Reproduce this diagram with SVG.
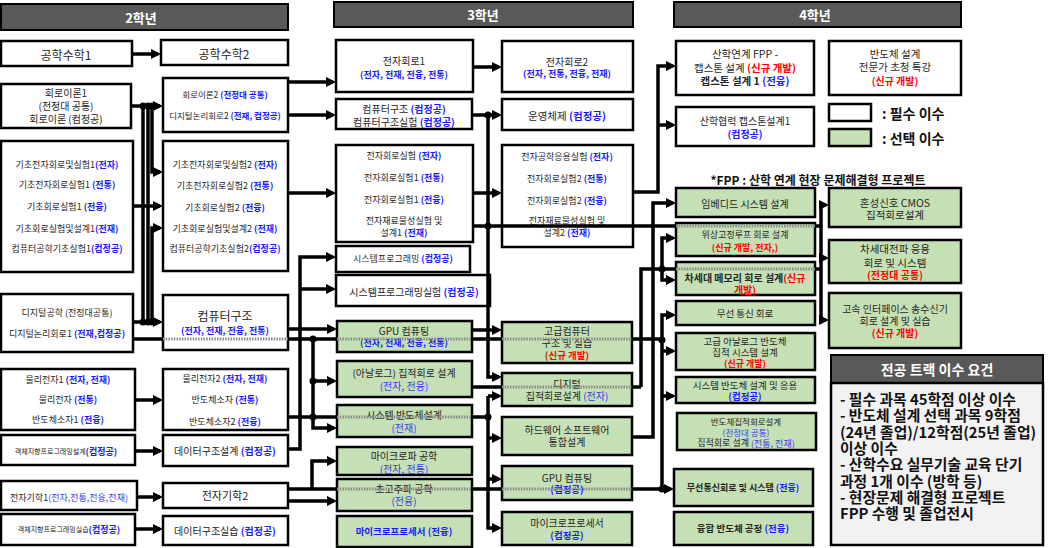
<svg xmlns="http://www.w3.org/2000/svg" width="1049" height="548" viewBox="0 0 1049 548">
<defs>
<style>
.w{fill:#fff;stroke:#000;stroke-width:2.5}
.g{fill:#c5e0b4;stroke:#000;stroke-width:2.5}
.hd{fill:#595959;stroke:#000;stroke-width:2}
text{font-family:"Noto Sans CJK KR","Noto Sans",sans-serif;fill:#262626;text-anchor:middle;dominant-baseline:central}
.f7{font-size:7px}.f85{font-size:8.5px}.f9{font-size:9px}.f95{font-size:9.5px}.f10{font-size:10px}.f105{font-size:10.5px}.f11{font-size:11px}.f12{font-size:12px}.f14{font-size:14px}
.k{font-weight:bold}
.bb{fill:#1a1aff;font-weight:bold}
.bn{fill:#3c3cf0}
.rb{fill:#ff0000;font-weight:bold}
.ht{fill:#fff;font-weight:bold;font-size:13px}
.rq{text-anchor:start;fill:#111;font-size:14.8px;font-weight:bold}
.c{fill:none;stroke:#000;stroke-width:3.5}
.d{fill:none;stroke:#8a8a8a;stroke-width:3;stroke-dasharray:1.5 1.2}
.a{marker-end:url(#ah)}
.dot{fill:#000}
</style>
<marker id="ah" markerWidth="10" markerHeight="10" refX="7" refY="5" orient="auto" markerUnits="userSpaceOnUse"><path d="M0,0 L10,5 L0,10 z" fill="#000"/></marker>
</defs>
<rect width="1049" height="548" fill="#fff"/>

<g id="h2"><rect class="hd" x="1" y="4" width="287" height="26"/><text class="ht" x="141" y="17">2학년</text></g>
<g id="h3"><rect class="hd" x="334" y="2" width="299" height="25"/><text class="ht" x="483" y="14">3학년</text></g>
<g id="h4"><rect class="hd" x="674" y="2" width="287" height="25"/><text class="ht" x="815" y="14">4학년</text></g>

<!-- column 1 -->
<g id="m1"><rect class="w" x="1" y="41" width="131" height="25"/><text class="f12" x="66" y="54">공학수학1</text></g>
<g id="ct1"><rect class="w" x="1" y="84" width="130" height="44"/>
<text class="f10" x="66" y="92">회로이론1</text><text class="f10" x="66" y="105">(전정대 공통)</text><text class="f10" x="66" y="118">회로이론 (컴정공)</text></g>
<g id="bl1"><rect class="w" x="1" y="141" width="132" height="131"/>
<text class="f9" x="67" y="164">기초전자회로및실험1<tspan class="bb">(전자)</tspan></text>
<text class="f9" x="67" y="184">기초전자회로실험1 <tspan class="bb">(전통)</tspan></text>
<text class="f9" x="67" y="206">기초회로실험1 <tspan class="bb">(전융)</tspan></text>
<text class="f9" x="67" y="228">기초회로실험및설계1<tspan class="bb">(전재)</tspan></text>
<text class="f9" x="67" y="248">컴퓨터공학기초실험1<tspan class="bb">(컴정공)</tspan></text></g>
<g id="dg1"><rect class="w" x="1" y="294" width="132" height="58"/>
<text class="f9" x="67" y="312">디지털공학 (전정대공통)</text>
<text class="f9" x="67" y="333">디지털논리회로1 <tspan class="bb">(전재,컴정공)</tspan></text></g>
<g id="pe1"><rect class="w" x="1" y="369" width="134" height="61"/>
<text class="f9" x="68" y="379">물리전자1 <tspan class="bb">(전자, 전재)</tspan></text>
<text class="f9" x="68" y="399">물리전자 <tspan class="bb">(전통)</tspan></text>
<text class="f9" x="68" y="419">반도체소자1 <tspan class="bb">(전융)</tspan></text></g>
<g id="op1"><rect class="w" x="1" y="435" width="134" height="30"/>
<text class="f7" x="66" y="451">객체지향프로그래밍설계<tspan class="bb" style="font-size:9px">(컴정공)</tspan></text></g>
<g id="em1"><rect class="w" x="1" y="481" width="136" height="29"/>
<text class="f9" x="69" y="497">전자기학1<tspan class="bn">(전자,전통,전융,전재)</tspan></text></g>
<g id="op2"><rect class="w" x="1" y="514" width="134" height="31"/>
<text class="f7" x="69" y="529">객체지향프로그래밍실습<tspan class="bb" style="font-size:9px">(컴정공)</tspan></text></g>

<!-- column 2 -->
<g id="m2"><rect class="w" x="161" y="40" width="127" height="25"/><text class="f12" x="224" y="53">공학수학2</text></g>
<g id="ct2"><rect class="w" x="163" y="78" width="125" height="54"/>
<text class="f85" x="225" y="94">회로이론2 <tspan class="bb">(전정대 공통)</tspan></text>
<text class="f85" x="225" y="115">디지털논리회로2 <tspan class="bb">(전재, 컴정공)</tspan></text></g>
<g id="bl2"><rect class="w" x="163" y="141" width="125" height="130"/>
<text class="f9" x="225" y="164">기초전자회로및실험2 <tspan class="bb">(전자)</tspan></text>
<text class="f9" x="225" y="185">기초전자회로실험2 <tspan class="bb">(전통)</tspan></text>
<text class="f9" x="225" y="207">기초회로실험2 <tspan class="bb">(전융)</tspan></text>
<text class="f9" x="225" y="228">기초회로실험및설계2 <tspan class="bb">(전재)</tspan></text>
<text class="f9" x="225" y="248">컴퓨터공학기초실험2<tspan class="bb">(컴정공)</tspan></text></g>
<g id="ca2"><rect class="w" x="163" y="295" width="125" height="55"/>
<text class="f12" x="225" y="315">컴퓨터구조</text>
<text class="f9 bb" x="225" y="330">(전자, 전재, 전융, 전통)</text></g>
<g id="pe2"><rect class="w" x="163" y="369" width="125" height="61"/>
<text class="f9" x="225" y="378">물리전자2 <tspan class="bb">(전자, 전재)</tspan></text>
<text class="f9" x="225" y="399">반도체소자 <tspan class="bb">(전통)</tspan></text>
<text class="f9" x="225" y="421">반도체소자2 <tspan class="bb">(전융)</tspan></text></g>
<g id="ds2"><rect class="w" x="163" y="435" width="125" height="31"/>
<text class="f10" x="225" y="450">데이터구조설계 <tspan class="bb">(컴정공)</tspan></text></g>
<g id="em2"><rect class="w" x="163" y="483" width="125" height="25"/>
<text class="f11" x="225" y="495">전자기학2</text></g>
<g id="dp2"><rect class="w" x="163" y="516" width="125" height="29"/>
<text class="f10" x="225" y="530">데이터구조실습 <tspan class="bb">(컴정공)</tspan></text></g>

<!-- column 3 -->
<g id="ec1"><rect class="w" x="336" y="40" width="137" height="52"/>
<text class="f10" x="404" y="60">전자회로1</text>
<text class="f9 bb" x="404" y="74">(전자, 전재, 전융, 전통)</text></g>
<g id="ca3"><rect class="w" x="336" y="99" width="136" height="30"/>
<text class="f10" x="404" y="108">컴퓨터구조 <tspan class="bb">(컴정공)</tspan></text>
<text class="f10" x="404" y="121">컴퓨터구조실험 <tspan class="bb">(컴정공)</tspan></text></g>
<g id="el3"><rect class="w" x="336" y="145" width="137" height="97"/>
<text class="f9" x="404" y="155">전자회로실험 <tspan class="bb">(전자)</tspan></text>
<text class="f9" x="404" y="177">전자회로실험1 <tspan class="bb">(전통)</tspan></text>
<text class="f9" x="404" y="199">전자회로실험1 <tspan class="bb">(전융)</tspan></text>
<text class="f9" x="404" y="220">전자재료물성실험 및</text>
<text class="f9" x="404" y="232">설계1 <tspan class="bb">(전재)</tspan></text></g>
<g id="sp3"><rect class="w" x="336" y="246" width="134" height="26"/>
<text class="f9" x="403" y="258">시스템프로그래밍 <tspan class="bb">(컴정공)</tspan></text></g>
<g id="spl3"><rect class="w" x="336" y="275" width="154" height="31"/>
<text class="f10" x="414" y="291">시스템프로그래밍실험 <tspan class="bb">(컴정공)</tspan></text></g>
<g id="gpu3"><rect class="g" x="337" y="321" width="135" height="31"/>
<text class="f10" x="404" y="330">GPU 컴퓨팅</text>
<text class="f9 bb" x="404" y="342">(전자, 전재, 전융, 전통)</text></g>
<g id="aic3"><rect class="g" x="337" y="361" width="135" height="36"/>
<text class="f10" x="404" y="372">(아날로그) 집적회로 설계</text>
<text class="f10 bn" x="404" y="385">(전자, 전융)</text></g>
<g id="ssd3"><rect class="g" x="337" y="405" width="135" height="32"/>
<text class="f10" x="404" y="414">시스템 반도체설계</text>
<text class="f10 bn" x="404" y="427">(전재)</text></g>
<g id="mw3"><rect class="g" x="337" y="447" width="135" height="28"/>
<text class="f10" x="404" y="455">마이크로파 공학</text>
<text class="f10 bn" x="404" y="468">(전자, 전통)</text></g>
<g id="hf3"><rect class="g" x="337" y="479" width="135" height="32"/>
<text class="f10" x="404" y="488">초고주파 공학</text>
<text class="f10 bn" x="404" y="500">(전융)</text></g>
<g id="mp3"><rect class="g" x="337" y="516" width="135" height="31"/>
<text class="f95 bb" x="404" y="531">마이크로프로세서 (전융)</text></g>

<!-- column 4 -->
<g id="ec2"><rect class="w" x="502" y="41" width="131" height="51"/>
<text class="f10" x="567" y="61">전자회로2</text>
<text class="f9 bb" x="567" y="73">(전자, 전통, 전융, 전재)</text></g>
<g id="os4"><rect class="w" x="502" y="99" width="131" height="31"/>
<text class="f105" x="567" y="115">운영체제 <tspan class="bb">(컴정공)</tspan></text></g>
<g id="ea4"><rect class="w" x="502" y="145" width="131" height="102"/>
<text class="f9" x="567" y="156">전자공학응용실험 <tspan class="bb">(전자)</tspan></text>
<text class="f9" x="567" y="178">전자회로실험2 <tspan class="bb">(전통)</tspan></text>
<text class="f9" x="567" y="200">전자회로실험2 <tspan class="bb">(전융)</tspan></text>
<text class="f9" x="567" y="220">전자재료물성실험 및</text>
<text class="f9" x="567" y="232">설계2 <tspan class="bb">(전재)</tspan></text></g>
<g id="aca4"><rect class="g" x="502" y="322" width="130" height="41"/>
<text class="f10" x="567" y="330">고급컴퓨터</text>
<text class="f10" x="567" y="342">구조 및 실습</text>
<text class="f95 rb" x="567" y="355">(신규 개발)</text></g>
<g id="dic4"><rect class="g" x="502" y="373" width="130" height="33"/>
<text class="f10" x="567" y="383">디지털</text>
<text class="f10" x="567" y="395">집적회로설계 <tspan class="bn">(전자)</tspan></text></g>
<g id="hs4"><rect class="g" x="502" y="417" width="130" height="38"/>
<text class="f10" x="567" y="429">하드웨어 소프트웨어</text>
<text class="f10" x="567" y="441">통합설계</text></g>
<g id="gpu4"><rect class="g" x="502" y="466" width="130" height="34"/>
<text class="f10" x="567" y="477">GPU 컴퓨팅</text>
<text class="f95 bb" x="567" y="489">(컴정공)</text></g>
<g id="mp4"><rect class="g" x="502" y="512" width="130" height="33"/>
<text class="f10" x="567" y="522">마이크로프로세서</text>
<text class="f95 bb" x="567" y="535">(컴정공)</text></g>

<!-- column 5 -->
<g id="fpp5"><rect class="w" x="676" y="41" width="138" height="54"/>
<text class="f105" x="745" y="53">산학연계 FPP -</text>
<text class="f105" x="745" y="67">캡스톤 설계 <tspan class="rb">(신규 개발)</tspan></text>
<text class="f105 k" x="745" y="80">캡스톤 설계 1 <tspan class="bb">(전융)</tspan></text></g>
<g id="cap5"><rect class="w" x="676" y="107" width="138" height="39"/>
<text class="f10" x="745" y="120">산학협력 캡스톤설계1</text>
<text class="f10 bb" x="745" y="133">(컴정공)</text></g>
<g id="note"><text class="f12 k" x="818" y="179" style="fill:#111">*FPP : 산학 연계 현장 문제해결형 프로젝트</text></g>
<g id="emb5"><rect class="g" x="676" y="188" width="139" height="29"/>
<text class="f10" x="745" y="203">임베디드 시스템 설계</text></g>
<g id="pll5"><rect class="g" x="676" y="223" width="139" height="33"/>
<text class="f9" x="745" y="234">위상고정루프 회로 설계</text>
<text class="f9 rb" x="745" y="247">(신규 개발, 전자,)</text></g>
<g id="mem5"><rect class="g" x="676" y="262" width="139" height="33"/>
<text class="f10 k" x="745" y="277">차세대 메모리 회로 설계<tspan class="rb">(신규</tspan></text>
<text class="f10 rb" x="745" y="289">개발)</text></g>
<g id="rf5"><rect class="g" x="676" y="301" width="139" height="24"/>
<text class="f95" x="745" y="313">무선 통신 회로</text></g>
<g id="aa5"><rect class="g" x="676" y="333" width="139" height="37"/>
<text class="f95" x="745" y="340.5">고급 아날로그 반도체</text>
<text class="f95" x="745" y="351.5">집적 시스템 설계</text>
<text class="f9 rb" x="745" y="363">(신규 개발)</text></g>
<g id="ssa5"><rect class="g" x="676" y="377" width="139" height="26"/>
<text class="f95" x="745" y="384.5">시스템 반도체 설계 및 응용</text>
<text class="f95 bb" x="745" y="396">(컴정공)</text></g>
<g id="sic5"><rect class="g" x="677" y="413" width="139" height="37"/>
<text class="f85" x="746" y="420.5">반도체집적회로설계</text>
<text class="f85 bn" x="746" y="431.5">(전정대 공통)</text>
<text class="f9" x="746" y="442.5">집적회로 설계 <tspan class="bn">(전통, 전재)</tspan></text></g>
<g id="rfs5"><rect class="g" x="674" y="469" width="139" height="37"/>
<text class="f9 k" x="743" y="487">무선통신회로 및 시스템 <tspan class="bb">(전융)</tspan></text></g>
<g id="fs5"><rect class="g" x="674" y="512" width="139" height="33"/>
<text class="f95 k" x="743" y="528">융합 반도체 공정 <tspan class="bb">(전융)</tspan></text></g>

<!-- column 6 -->
<g id="sem6"><rect class="w" x="829" y="41" width="132" height="54"/>
<text class="f105" x="895" y="53">반도체 설계</text>
<text class="f105" x="895" y="66">전문가 초청 특강</text>
<text class="f10 rb" x="895" y="80">(신규 개발)</text></g>
<g id="legend">
<rect class="w" x="829" y="104" width="42" height="17"/>
<rect class="g" x="829" y="129" width="42" height="17"/>
<text class="f14 k" x="882" y="113" style="text-anchor:start;fill:#111">: 필수 이수</text>
<text class="f14 k" x="882" y="138" style="text-anchor:start;fill:#111">: 선택 이수</text></g>
<g id="cmos6"><rect class="g" x="829" y="188" width="132" height="39"/>
<text class="f105" x="895" y="202">혼성신호 CMOS</text>
<text class="f105" x="895" y="214">집적회로설계</text></g>
<g id="nrf6"><rect class="g" x="829" y="240" width="132" height="43"/>
<text class="f105" x="895" y="248">차세대전파 응용</text>
<text class="f105" x="895" y="262">회로 및 시스템</text>
<text class="f10 rb" x="895" y="274">(전정대 공통)</text></g>
<g id="hsi6"><rect class="g" x="829" y="293" width="132" height="55"/>
<text class="f10" x="895" y="308">고속 인터페이스 송수신기</text>
<text class="f10" x="895" y="320">회로 설계 및 실습</text>
<text class="f10 rb" x="895" y="332">(신규 개발)</text></g>
<g id="req">
<rect class="hd" x="831" y="355" width="212" height="28"/>
<text class="f14" x="937" y="369" style="fill:#fff;font-weight:bold">전공 트랙 이수 요건</text>
<rect x="831" y="383" width="212" height="162" fill="#f2f2f2" stroke="#000" stroke-width="2.5"/>
<text class="rq" x="840" y="398">- 필수 과목 45학점 이상 이수</text>
<text class="rq" x="840" y="414">- 반도체 설계 선택 과목 9학점</text>
<text class="rq" x="840" y="431">(24년 졸업)/12학점(25년 졸업)</text>
<text class="rq" x="840" y="447">이상 이수</text>
<text class="rq" x="840" y="463">- 산학수요 실무기술 교육 단기</text>
<text class="rq" x="840" y="480">과정 1개 이수 (방학 등)</text>
<text class="rq" x="840" y="496">- 현장문제 해결형 프로젝트</text>
<text class="rq" x="840" y="512">FPP 수행 및 졸업전시</text>
</g>

<g id="connectors">
<path class="c a" d="M132,54 H158"/>
<path class="c a" d="M131,106 H160"/>
<path class="c" d="M143,106 V322 M148,106 V322"/>
<path class="c a" d="M152,106 V172 H160"/>
<path class="c a" d="M133,206 H160"/>
<path class="c a" d="M152,322 V228 H160"/>
<path class="c a" d="M133,322 H160"/>
<path class="c" d="M133,339 H163 M288,339 H337 M472,339 H502 M632,339 H662"/>
<path class="d" d="M163,339 H288 M337,339 H472 M502,339 H632"/>
<path class="c a" d="M135,400 H160"/>
<path class="c a" d="M135,451 H160"/>
<path class="c a" d="M137,497 H160"/>
<path class="c a" d="M135,529 H160"/>
<path class="c a" d="M288,82 H333"/>
<path class="c a" d="M288,115 H333"/>
<path class="c a" d="M288,193 H333"/>
<path class="c a" d="M288,449 H300 V257 H333"/>
<path class="c a" d="M300,289 H333"/>
<path class="c a" d="M288,329 H334"/>
<path class="c a" d="M313,339 V428 H334"/>
<path class="c a" d="M313,381 H334"/>
<path class="c" d="M288,417 H337 M472,417 H488"/>
<path class="d" d="M337,417 H472"/>
<path class="c" d="M288,489 H337 M472,489 H502 M632,489 H662"/>
<path class="d" d="M337,489 H472 M502,489 H632"/>
<path class="c a" d="M312,489 V461 H334"/>
<path class="c a" d="M288,501 H334"/>
<path class="c a" d="M473,67 H499"/>
<path class="c a" d="M472,115 H499"/>
<path class="c a" d="M488,115 V377 H499"/>
<path class="c a" d="M473,193 H499"/>
<path class="c" d="M473,226 H676 M815,226 H821"/>
<path class="d" d="M676,226 H815"/>
<path class="c a" d="M472,330 H499"/>
<path class="c" d="M472,387 H502 M632,387 H641"/>
<path class="d" d="M502,387 H632"/>
<path class="c a" d="M488,396 V528 H499"/>
<path class="c a" d="M488,396 H499"/>
<path class="c a" d="M488,438 H499"/>
<path class="c a" d="M488,479 H499"/>
<path class="c a" d="M633,192 H658 V66 H673"/>
<path class="c a" d="M658,125 H673"/>
<path class="c a" d="M632,437 H653 V203 H673"/>
<path class="c" d="M641,387 V269 H676 M815,269 H821"/>
<path class="d" d="M676,269 H815"/>
<path class="c a" d="M662,269 V238 H673"/>
<path class="c a" d="M662,269 V280 H673"/>
<path class="c a" d="M662,489 V315 H673"/>
<path class="c a" d="M662,351 H673"/>
<path class="c a" d="M662,396 H673"/>
<path class="c a" d="M662,489 H671"/>
<path class="c" d="M821,205 V320"/>
<path class="c a" d="M821,205 H826"/>
<path class="c a" d="M821,258 H826"/>
<path class="c a" d="M821,320 H826"/>
<circle class="dot" cx="143" cy="106" r="3.5"/><circle class="dot" cx="148" cy="106" r="3.5"/><circle class="dot" cx="152" cy="106" r="3.5"/>
<circle class="dot" cx="143" cy="322" r="3.5"/><circle class="dot" cx="148" cy="322" r="3.5"/><circle class="dot" cx="152" cy="322" r="3.5"/>
<circle class="dot" cx="313" cy="339" r="3.5"/><circle class="dot" cx="313" cy="381" r="3.5"/><circle class="dot" cx="313" cy="417" r="3.5"/>
<circle class="dot" cx="488" cy="115" r="3.5"/><circle class="dot" cx="488" cy="226" r="3.5"/><circle class="dot" cx="488" cy="417" r="3.5"/>
<circle class="dot" cx="662" cy="269" r="3.5"/><circle class="dot" cx="662" cy="340" r="3.5"/><circle class="dot" cx="662" cy="489" r="3.5"/>
</g>
</svg>
